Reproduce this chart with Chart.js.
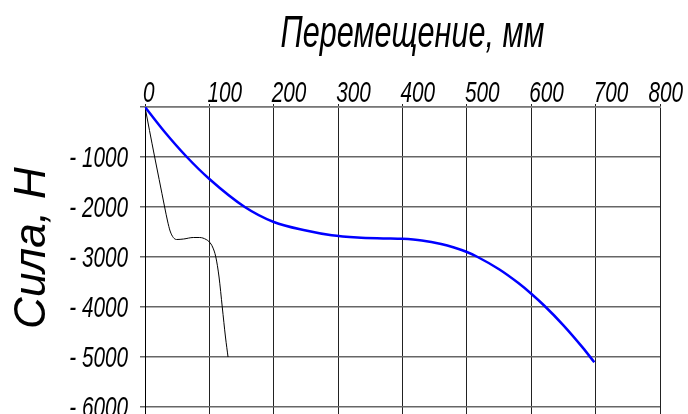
<!DOCTYPE html>
<html>
<head>
<meta charset="utf-8">
<script src="https://cdn.jsdelivr.net/npm/chart.js@4/dist/chart.umd.min.js"></script>
<style>
  html, body { margin: 0; padding: 0; background: #fff; }
</style>
</head>
<body>
<canvas id="chart" width="688" height="414"></canvas>
<script>
// displacement, mm / force, N
const xTicks = [0, 100, 200, 300, 400, 500, 600, 700, 800];
const yTicks = [0, -1000, -2000, -3000, -4000, -5000, -6000];

const xTitle = 'Перемещение, мм';
const yTitle = 'Сила, Н';

const blueX = [0, 30, 65, 100, 155, 200, 250, 290, 330, 370, 400, 430, 460, 480, 500, 516, 550, 580, 600, 620, 650, 680, 698];
const blueY = [0, -490, -1000, -1440, -2000, -2300, -2470, -2565, -2610, -2628, -2637, -2670, -2740, -2810, -2900, -2995, -3246, -3522, -3735, -3970, -4366, -4813, -5106];

const blackX = [0, 7, 15, 22, 30.5, 35, 39, 44, 49, 60, 75, 85, 95, 100, 105, 110, 115, 120, 125, 129];
const blackY = [0, -470, -1000, -1450, -2000, -2280, -2480, -2610, -2650, -2640, -2610, -2610, -2650, -2700, -2800, -3000, -3400, -4000, -4600, -5000];

const FONT = "'Liberation Sans', Arial, sans-serif";
const SQUEEZE = 0.69; // the lettering in the picture is narrow

function toPoints(xs, ys) {
	return xs.map((x, i) => ({x: x, y: ys[i]}));
}

// draws narrow italic text, axis lettering of the original
function squeezedText(ctx, text, x, y, size, align, sx) {
	ctx.save();
	ctx.font = 'italic ' + size + 'px ' + FONT;
	ctx.fillStyle = '#000';
	ctx.textBaseline = 'alphabetic';
	ctx.textAlign = 'left';
	const w = ctx.measureText(text).width * sx;
	let left = x;
	if (align === 'right') left = x - w;
	if (align === 'center') left = x - w / 2;
	ctx.translate(left, y);
	ctx.scale(sx, 1);
	ctx.fillText(text, 0, 0);
	ctx.restore();
	return w;
}

const axisText = {
	id: 'axisText',
	afterDraw: (chart) => {
		const ctx = chart.ctx;
		const xs = chart.scales.x;
		const ys = chart.scales.y;
		const area = chart.chartArea;

		// x tick labels
		ctx.save();
		ctx.font = 'italic 30px ' + FONT;
		xTicks.forEach((v) => {
			const w = ctx.measureText(String(v)).width * SQUEEZE;
			const left = Math.min(xs.getPixelForValue(v) - 2, chart.width - 5 - w);
			squeezedText(ctx, String(v), left, area.top - 5, 30, 'left', SQUEEZE);
		});
		ctx.restore();

		// y tick labels
		yTicks.forEach((v) => {
			if (v === 0) return;
			squeezedText(ctx, '- ' + Math.abs(v), area.left - 17, ys.getPixelForValue(v) + 10, 30, 'right', SQUEEZE);
		});

		// x title
		squeezedText(ctx, xTitle, (area.left + area.right) / 2 + 10, 47, 45, 'center', 0.68);

		// y title
		ctx.save();
		ctx.font = 'italic 44px ' + FONT;
		ctx.fillStyle = '#000';
		ctx.textAlign = 'center';
		ctx.textBaseline = 'alphabetic';
		ctx.translate(45, 248);
		ctx.rotate(-Math.PI / 2);
		ctx.fillText(yTitle, 0, 0);
		ctx.restore();
	}
};

const ctx = document.getElementById('chart').getContext('2d');
const chart = new Chart(ctx, {
	type: 'scatter',
	data: {
		datasets: [{
			data: toPoints(blueX, blueY),
			showLine: true,
			borderColor: '#0000ff',
			borderWidth: 2.5,
			pointRadius: 0,
			cubicInterpolationMode: 'monotone'
		}, {
			data: toPoints(blackX, blackY),
			showLine: true,
			borderColor: '#000000',
			borderWidth: 1,
			pointRadius: 0,
			cubicInterpolationMode: 'monotone'
		}]
	},
	options: {
		responsive: false,
		animation: false,
		devicePixelRatio: 1,
		layout: { padding: { left: 0, top: 0, right: 28, bottom: 0 } },
		plugins: {
			legend: { display: false },
			tooltip: { enabled: false }
		},
		scales: {
			x: {
				type: 'linear',
				position: 'top',
				min: xTicks[0],
				max: xTicks[xTicks.length - 1],
				afterBuildTicks: (scale) => { scale.ticks = xTicks.map(v => ({value: v})); },
				ticks: { display: false },
				grid: { color: '#222', lineWidth: 1, tickLength: 3 },
				border: { color: '#777', width: 1.5 },
				afterFit: (scale) => {
					scale.height = 107;
					scale.paddingLeft = 0;
					scale.paddingRight = 0;
				}
			},
			y: {
				type: 'linear',
				min: -6140,
				max: 0,
				afterBuildTicks: (scale) => { scale.ticks = yTicks.map(v => ({value: v})); },
				ticks: { display: false },
				grid: { color: '#666', lineWidth: 1.5, tickLength: 5 },
				border: { color: '#000', width: 1 },
				afterFit: (scale) => {
					scale.width = 145;
					scale.paddingTop = 0;
					scale.paddingBottom = 0;
				}
			}
		}
	},
	plugins: [axisText]
});
</script>
</body>
</html>
